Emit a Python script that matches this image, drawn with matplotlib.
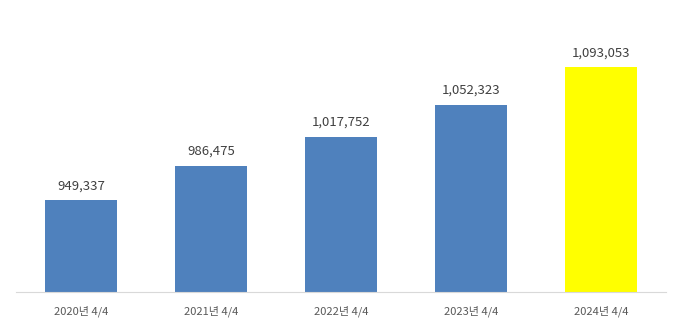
import matplotlib.pyplot as plt

plt.rcParams['font.family'] = ['Noto Sans CJK KR', 'DejaVu Sans']

quarters = ['2020년 4/4', '2021년 4/4', '2022년 4/4', '2023년 4/4', '2024년 4/4']
values = [949337, 986475, 1017752, 1052323, 1093053]
colors = ['#4F81BD', '#4F81BD', '#4F81BD', '#4F81BD', '#FFFF00']

fig = plt.figure(figsize=(6.89, 3.30), dpi=100)
ax = fig.add_axes([0.0232, 0.1152, 0.9434, 0.8424])

x = range(len(quarters))
bars = ax.bar(x, values, width=0.55, color=colors)

# value labels above each bar
for b, v in zip(bars, values):
    ax.text(b.get_x() + b.get_width() / 2, v + 8000, f'{v:,}',
            ha='center', va='bottom', fontsize=9.5, color='#404040')

ax.set_ylim(850000, 1150000)
ax.set_xlim(-0.5, len(quarters) - 0.5)
ax.set_xticks(list(x))
ax.set_xticklabels(quarters, fontsize=8, color='#595959')
ax.tick_params(axis='x', length=0, pad=10)
ax.set_yticks([])

for s in ['top', 'right', 'left']:
    ax.spines[s].set_visible(False)
ax.spines['bottom'].set_color('#D9D9D9')

fig.savefig('out.png', dpi=100)
